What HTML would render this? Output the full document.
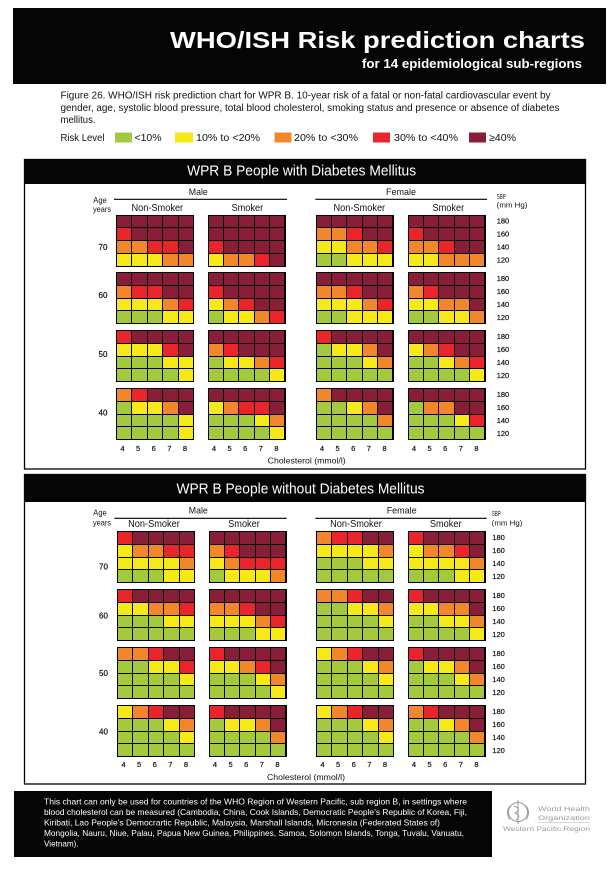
<!DOCTYPE html>
<html>
<head>
<meta charset="utf-8">
<style>
html,body{margin:0;padding:0;background:#fff;}
#w{position:relative;width:616px;height:873px;overflow:hidden;background:#fff;}
svg{position:absolute;left:0;top:0;}
svg text{font-family:"Liberation Sans",sans-serif;}
.g{position:absolute;width:78px;height:52px;background:#000;display:grid;grid-template-columns:repeat(5,1fr);grid-template-rows:repeat(4,1fr);gap:1px;padding:1px;box-sizing:border-box;}
.g>*{display:block;}
g{background:#a4c93c;} y{background:#f5ea17;} o{background:#f1872a;} r{background:#e9252b;} d{background:#891e38;}
</style>
</head>
<body>
<div id="w">
<svg width="616" height="873" viewBox="0 0 616 873" xmlns="http://www.w3.org/2000/svg">
<!-- Header -->
<rect x="13" y="8" width="593" height="76" fill="#050505"/>
<text x="170" y="48" font-size="23" font-weight="bold" fill="#fff" textLength="415" lengthAdjust="spacingAndGlyphs">WHO/ISH Risk prediction charts</text>
<text x="362" y="68" font-size="13" font-weight="bold" fill="#fff" textLength="220" lengthAdjust="spacingAndGlyphs">for 14 epidemiological sub-regions</text>

<!-- Paragraph -->
<text x="60.5" y="98.5" font-size="10" fill="#111" textLength="490" lengthAdjust="spacingAndGlyphs">Figure 26. WHO/ISH risk prediction chart for WPR B. 10-year risk of a fatal or non-fatal cardiovascular event by</text>
<text x="60.5" y="111" font-size="10" fill="#111" textLength="499" lengthAdjust="spacingAndGlyphs">gender, age, systolic blood pressure, total blood cholesterol, smoking status and presence or absence of diabetes</text>
<text x="60.5" y="123" font-size="10" fill="#111" textLength="35" lengthAdjust="spacingAndGlyphs">mellitus.</text>

<!-- Legend -->
<text x="60.5" y="141" font-size="10" fill="#111" textLength="44" lengthAdjust="spacingAndGlyphs">Risk Level</text>
<rect x="115" y="132.5" width="17" height="10" fill="#a4c93c"/>
<text x="134.5" y="141" font-size="10" fill="#111" textLength="27" lengthAdjust="spacingAndGlyphs">&lt;10%</text>
<rect x="175" y="132.5" width="18" height="10" fill="#f5ea17"/>
<text x="196" y="141" font-size="10" fill="#111" textLength="64" lengthAdjust="spacingAndGlyphs">10% to &lt;20%</text>
<rect x="274.5" y="132.5" width="17" height="10" fill="#f1872a"/>
<text x="294" y="141" font-size="10" fill="#111" textLength="64" lengthAdjust="spacingAndGlyphs">20% to &lt;30%</text>
<rect x="373" y="132.5" width="17" height="10" fill="#e9252b"/>
<text x="394" y="141" font-size="10" fill="#111" textLength="64" lengthAdjust="spacingAndGlyphs">30% to &lt;40%</text>
<rect x="469" y="132.5" width="17" height="10" fill="#891e38"/>
<text x="489" y="141" font-size="10" fill="#111" textLength="27" lengthAdjust="spacingAndGlyphs">≥40%</text>

<!-- Panel 1 -->
<rect x="24.5" y="159.5" width="561" height="309.5" fill="#fff" stroke="#000" stroke-width="1.3"/>
<rect x="24" y="159" width="562" height="25" fill="#050505"/>
<text x="301.6" y="175.5" font-size="15" fill="#fff" text-anchor="middle" textLength="229" lengthAdjust="spacingAndGlyphs">WPR B People with Diabetes Mellitus</text>

<text x="93.3" y="203" font-size="8" fill="#111" textLength="13.4" lengthAdjust="spacingAndGlyphs">Age</text>
<text x="93" y="212" font-size="8" fill="#111" textLength="18" lengthAdjust="spacingAndGlyphs">years</text>
<text x="198.3" y="195" font-size="9.5" fill="#111" text-anchor="middle" textLength="19" lengthAdjust="spacingAndGlyphs">Male</text>
<line x1="114" y1="199.3" x2="287" y2="199.3" stroke="#000" stroke-width="1.2"/>
<text x="157.3" y="210.8" font-size="10" fill="#111" text-anchor="middle" textLength="51.7" lengthAdjust="spacingAndGlyphs">Non-Smoker</text>
<text x="247.3" y="210.8" font-size="10" fill="#111" text-anchor="middle" textLength="31.7" lengthAdjust="spacingAndGlyphs">Smoker</text>
<text x="401" y="195" font-size="9.5" fill="#111" text-anchor="middle" textLength="30" lengthAdjust="spacingAndGlyphs">Female</text>
<line x1="315.3" y1="199.3" x2="487" y2="199.3" stroke="#000" stroke-width="1.2"/>
<text x="359.3" y="210.8" font-size="10" fill="#111" text-anchor="middle" textLength="51.7" lengthAdjust="spacingAndGlyphs">Non-Smoker</text>
<text x="448.3" y="210.8" font-size="10" fill="#111" text-anchor="middle" textLength="31.7" lengthAdjust="spacingAndGlyphs">Smoker</text>
<text x="496.7" y="199" font-size="7.5" fill="#111" textLength="9" lengthAdjust="spacingAndGlyphs">SBP</text>
<text x="496.7" y="207.5" font-size="7.5" fill="#111" textLength="30.7" lengthAdjust="spacingAndGlyphs">(mm Hg)</text>

<g font-size="7.5" fill="#111" stroke="#111" stroke-width="0.2">
<text x="496.7" y="223.5">180</text><text x="496.7" y="236.5">160</text><text x="496.7" y="249.5">140</text><text x="496.7" y="262.5">120</text>
<text x="496.7" y="281">180</text><text x="496.7" y="294">160</text><text x="496.7" y="307">140</text><text x="496.7" y="320">120</text>
<text x="496.7" y="339">180</text><text x="496.7" y="352">160</text><text x="496.7" y="365">140</text><text x="496.7" y="378">120</text>
<text x="496.7" y="397">180</text><text x="496.7" y="410">160</text><text x="496.7" y="423">140</text><text x="496.7" y="436">120</text>
</g>
<g font-size="8" fill="#111" text-anchor="middle" stroke="#111" stroke-width="0.2">
<text x="103" y="250">70</text><text x="103" y="298">60</text><text x="103" y="357">50</text><text x="103" y="415.5">40</text>
</g>
<g font-size="7.5" fill="#111" text-anchor="middle" stroke="#111" stroke-width="0.2">
<text x="122.5 138.1 153.7 169.3 184.9" y="451">45678</text>
<text x="214 229.6 245.2 260.8 276.4" y="451">45678</text>
<text x="322 337.6 353.2 368.8 384.4" y="451">45678</text>
<text x="414 429.6 445.2 460.8 476.4" y="451">45678</text>
</g>
<text x="306.7" y="463.5" font-size="8.5" fill="#111" text-anchor="middle" textLength="78" lengthAdjust="spacingAndGlyphs">Cholesterol (mmol/l)</text>

<!-- Panel 2 -->
<rect x="24.5" y="474.5" width="561" height="309.5" fill="#fff" stroke="#000" stroke-width="1.3"/>
<rect x="24" y="474" width="562" height="28" fill="#050505"/>
<text x="300.5" y="493.5" font-size="15" fill="#fff" text-anchor="middle" textLength="248" lengthAdjust="spacingAndGlyphs">WPR B People without Diabetes Mellitus</text>

<text x="93.3" y="515.5" font-size="8" fill="#111" textLength="13.4" lengthAdjust="spacingAndGlyphs">Age</text>
<text x="93" y="525.5" font-size="8" fill="#111" textLength="18" lengthAdjust="spacingAndGlyphs">years</text>
<text x="198.3" y="513.5" font-size="9.5" fill="#111" text-anchor="middle" textLength="19" lengthAdjust="spacingAndGlyphs">Male</text>
<line x1="114.3" y1="518.3" x2="286.7" y2="518.3" stroke="#000" stroke-width="1.2"/>
<text x="154" y="527" font-size="10" fill="#111" text-anchor="middle" textLength="51.7" lengthAdjust="spacingAndGlyphs">Non-Smoker</text>
<text x="244" y="527" font-size="10" fill="#111" text-anchor="middle" textLength="31.7" lengthAdjust="spacingAndGlyphs">Smoker</text>
<text x="401.7" y="513.5" font-size="9.5" fill="#111" text-anchor="middle" textLength="30" lengthAdjust="spacingAndGlyphs">Female</text>
<line x1="315.3" y1="518.3" x2="486.7" y2="518.3" stroke="#000" stroke-width="1.2"/>
<text x="356" y="527" font-size="10" fill="#111" text-anchor="middle" textLength="51.7" lengthAdjust="spacingAndGlyphs">Non-Smoker</text>
<text x="445.7" y="527" font-size="10" fill="#111" text-anchor="middle" textLength="31.7" lengthAdjust="spacingAndGlyphs">Smoker</text>
<text x="491.7" y="516" font-size="7.5" fill="#111" textLength="9" lengthAdjust="spacingAndGlyphs">SBP</text>
<text x="491.7" y="525.5" font-size="7.5" fill="#111" textLength="30.7" lengthAdjust="spacingAndGlyphs">(mm Hg)</text>

<g font-size="7.5" fill="#111" stroke="#111" stroke-width="0.2">
<text x="492.3" y="540">180</text><text x="492.3" y="553">160</text><text x="492.3" y="566">140</text><text x="492.3" y="579">120</text>
<text x="492.3" y="598">180</text><text x="492.3" y="611">160</text><text x="492.3" y="624">140</text><text x="492.3" y="637">120</text>
<text x="492.3" y="656">180</text><text x="492.3" y="669">160</text><text x="492.3" y="682">140</text><text x="492.3" y="695">120</text>
<text x="492.3" y="714">180</text><text x="492.3" y="727">160</text><text x="492.3" y="740">140</text><text x="492.3" y="753">120</text>
</g>
<g font-size="8" fill="#111" text-anchor="middle" stroke="#111" stroke-width="0.2">
<text x="103.5" y="569.5">70</text><text x="103.5" y="618.5">60</text><text x="103.5" y="676">50</text><text x="103.5" y="734.5">40</text>
</g>
<g font-size="7.5" fill="#111" text-anchor="middle" stroke="#111" stroke-width="0.2">
<text x="123.5 139.1 154.7 170.3 185.9" y="767">45678</text>
<text x="215 230.6 246.2 261.8 277.4" y="767">45678</text>
<text x="322.5 338.1 353.7 369.3 384.9" y="767">45678</text>
<text x="414 429.6 445.2 460.8 476.4" y="767">45678</text>
</g>
<text x="306" y="780" font-size="8.5" fill="#111" text-anchor="middle" textLength="78" lengthAdjust="spacingAndGlyphs">Cholesterol (mmol/l)</text>

<!-- Footer -->
<rect x="14" y="791" width="478" height="66" fill="#050505"/>
<g font-size="8.3" fill="#fff">
<text x="44" y="804.5" textLength="423" lengthAdjust="spacingAndGlyphs">This chart can only be used for countries of the WHO Region of Western Pacific, sub region B, in settings where</text>
<text x="44" y="815" textLength="423" lengthAdjust="spacingAndGlyphs">blood cholesterol can be measured (Cambodia, China, Cook Islands, Democratic People’s Republic of Korea, Fiji,</text>
<text x="44" y="825.5" textLength="396" lengthAdjust="spacingAndGlyphs">Kiribati, Lao People’s Democrartic Republic, Malaysia, Marshall Islands, Micronesia (Federated States of)</text>
<text x="44" y="836" textLength="420" lengthAdjust="spacingAndGlyphs">Mongolia, Nauru, Niue, Palau, Papua New Guinea, Philippines, Samoa, Solomon Islands, Tonga, Tuvalu, Vanuatu,</text>
<text x="44" y="846.5" textLength="34.6" lengthAdjust="spacingAndGlyphs">Vietnam).</text>
</g>

<!-- WHO logo -->
<g fill="none" stroke="#9a9a9a" stroke-width="1">
<circle cx="518" cy="812" r="9.5"/>
<path d="M510 806 Q505 812 510 820 M526 806 Q531 812 526 820"/>
<line x1="518" y1="800" x2="518" y2="824"/>
<path d="M514 806 Q522 809 515 813 Q522 816 516 820"/>
</g>
<g font-size="6.5" fill="#9a9a9a">
<text x="538" y="811" textLength="52" lengthAdjust="spacingAndGlyphs">World Health</text>
<text x="538" y="820" textLength="52" lengthAdjust="spacingAndGlyphs">Organization</text>
</g>
<line x1="538" y1="822.5" x2="590" y2="822.5" stroke="#c8c8c8" stroke-width="0.8"/>
<text x="503" y="831" font-size="6" fill="#9a9a9a" textLength="87" lengthAdjust="spacingAndGlyphs">Western Pacific Region</text>
</svg>

<!-- Panel 1 grids (with diabetes) -->
<div class="g" style="left:116px;top:214.5px"><d></d><d></d><d></d><d></d><d></d><r></r><d></d><d></d><d></d><d></d><o></o><o></o><r></r><r></r><d></d><y></y><y></y><y></y><o></o><o></o></div>
<div class="g" style="left:207.5px;top:214.5px"><d></d><d></d><d></d><d></d><d></d><d></d><d></d><d></d><d></d><d></d><r></r><d></d><d></d><d></d><d></d><y></y><o></o><o></o><r></r><d></d></div>
<div class="g" style="left:315.5px;top:214.5px"><d></d><d></d><d></d><d></d><d></d><o></o><o></o><r></r><d></d><d></d><y></y><y></y><o></o><o></o><r></r><g></g><g></g><y></y><y></y><y></y></div>
<div class="g" style="left:407.5px;top:214.5px"><d></d><d></d><d></d><d></d><d></d><r></r><d></d><d></d><d></d><d></d><o></o><o></o><r></r><d></d><d></d><y></y><y></y><o></o><o></o><o></o></div>

<div class="g" style="left:116px;top:272px"><d></d><d></d><d></d><d></d><d></d><o></o><r></r><r></r><d></d><d></d><y></y><y></y><y></y><o></o><r></r><g></g><g></g><g></g><y></y><y></y></div>
<div class="g" style="left:207.5px;top:272px"><d></d><d></d><d></d><d></d><d></d><r></r><d></d><d></d><d></d><d></d><y></y><o></o><r></r><d></d><d></d><g></g><y></y><y></y><o></o><r></r></div>
<div class="g" style="left:315.5px;top:272px"><d></d><d></d><d></d><d></d><d></d><o></o><o></o><r></r><d></d><d></d><y></y><y></y><y></y><o></o><r></r><g></g><g></g><y></y><y></y><y></y></div>
<div class="g" style="left:407.5px;top:272px"><d></d><d></d><d></d><d></d><d></d><o></o><r></r><d></d><d></d><d></d><y></y><y></y><o></o><o></o><d></d><g></g><g></g><y></y><y></y><o></o></div>

<div class="g" style="left:116px;top:330px"><r></r><d></d><d></d><d></d><d></d><y></y><y></y><y></y><r></r><d></d><g></g><g></g><g></g><y></y><y></y><g></g><g></g><g></g><g></g><y></y></div>
<div class="g" style="left:207.5px;top:330px"><d></d><d></d><d></d><d></d><d></d><o></o><r></r><d></d><d></d><d></d><g></g><y></y><y></y><o></o><r></r><g></g><g></g><g></g><g></g><y></y></div>
<div class="g" style="left:315.5px;top:330px"><r></r><d></d><d></d><d></d><d></d><g></g><y></y><y></y><o></o><d></d><g></g><g></g><g></g><y></y><o></o><g></g><g></g><g></g><g></g><g></g></div>
<div class="g" style="left:407.5px;top:330px"><d></d><d></d><d></d><d></d><d></d><y></y><o></o><r></r><d></d><d></d><g></g><g></g><y></y><o></o><r></r><g></g><g></g><g></g><g></g><y></y></div>

<div class="g" style="left:116px;top:388px"><o></o><r></r><d></d><d></d><d></d><g></g><y></y><y></y><o></o><d></d><g></g><g></g><g></g><g></g><y></y><g></g><g></g><g></g><g></g><y></y></div>
<div class="g" style="left:207.5px;top:388px"><d></d><d></d><d></d><d></d><d></d><y></y><o></o><r></r><r></r><d></d><g></g><g></g><g></g><y></y><o></o><g></g><g></g><g></g><g></g><y></y></div>
<div class="g" style="left:315.5px;top:388px"><o></o><d></d><d></d><d></d><d></d><g></g><g></g><y></y><o></o><d></d><g></g><g></g><g></g><g></g><o></o><g></g><g></g><g></g><g></g><g></g></div>
<div class="g" style="left:407.5px;top:388px"><d></d><d></d><d></d><d></d><d></d><g></g><o></o><o></o><d></d><d></d><g></g><g></g><g></g><y></y><r></r><g></g><g></g><g></g><g></g><g></g></div>

<!-- Panel 2 grids (without diabetes) -->
<div class="g" style="left:117px;top:531px"><r></r><d></d><d></d><d></d><d></d><y></y><o></o><o></o><r></r><r></r><y></y><y></y><y></y><y></y><o></o><g></g><g></g><g></g><y></y><y></y></div>
<div class="g" style="left:208.5px;top:531px"><d></d><d></d><d></d><d></d><d></d><o></o><r></r><d></d><d></d><d></d><y></y><o></o><r></r><r></r><r></r><g></g><y></y><y></y><y></y><o></o></div>
<div class="g" style="left:316px;top:531px"><o></o><r></r><r></r><d></d><d></d><y></y><y></y><y></y><y></y><o></o><g></g><g></g><g></g><y></y><y></y><g></g><g></g><g></g><g></g><g></g></div>
<div class="g" style="left:407.5px;top:531px"><r></r><d></d><d></d><d></d><d></d><y></y><o></o><o></o><r></r><d></d><y></y><y></y><y></y><y></y><o></o><g></g><g></g><g></g><y></y><y></y></div>

<div class="g" style="left:117px;top:589px"><r></r><d></d><d></d><d></d><d></d><y></y><y></y><o></o><o></o><r></r><g></g><g></g><g></g><y></y><y></y><g></g><g></g><g></g><g></g><g></g></div>
<div class="g" style="left:208.5px;top:589px"><d></d><d></d><d></d><d></d><d></d><o></o><o></o><r></r><d></d><d></d><y></y><y></y><y></y><o></o><r></r><g></g><g></g><g></g><y></y><y></y></div>
<div class="g" style="left:316px;top:589px"><o></o><o></o><r></r><d></d><d></d><g></g><g></g><y></y><y></y><o></o><g></g><g></g><g></g><g></g><y></y><g></g><g></g><g></g><g></g><g></g></div>
<div class="g" style="left:407.5px;top:589px"><r></r><d></d><d></d><d></d><d></d><y></y><y></y><o></o><o></o><d></d><g></g><g></g><y></y><y></y><o></o><g></g><g></g><g></g><g></g><y></y></div>

<div class="g" style="left:117px;top:647px"><o></o><o></o><r></r><d></d><d></d><g></g><g></g><y></y><y></y><r></r><g></g><g></g><g></g><g></g><y></y><g></g><g></g><g></g><g></g><g></g></div>
<div class="g" style="left:208.5px;top:647px"><r></r><d></d><d></d><d></d><d></d><y></y><y></y><o></o><r></r><d></d><g></g><g></g><g></g><y></y><o></o><g></g><g></g><g></g><g></g><y></y></div>
<div class="g" style="left:316px;top:647px"><y></y><o></o><r></r><d></d><d></d><g></g><g></g><g></g><y></y><o></o><g></g><g></g><g></g><g></g><y></y><g></g><g></g><g></g><g></g><g></g></div>
<div class="g" style="left:407.5px;top:647px"><r></r><d></d><d></d><d></d><d></d><g></g><y></y><y></y><o></o><d></d><g></g><g></g><g></g><y></y><o></o><g></g><g></g><g></g><g></g><g></g></div>

<div class="g" style="left:117px;top:705px"><y></y><o></o><r></r><d></d><d></d><g></g><g></g><g></g><y></y><o></o><g></g><g></g><g></g><g></g><y></y><g></g><g></g><g></g><g></g><g></g></div>
<div class="g" style="left:208.5px;top:705px"><r></r><d></d><d></d><d></d><d></d><g></g><y></y><y></y><o></o><d></d><g></g><g></g><g></g><g></g><o></o><g></g><g></g><g></g><g></g><g></g></div>
<div class="g" style="left:316px;top:705px"><y></y><o></o><r></r><d></d><d></d><g></g><g></g><g></g><y></y><o></o><g></g><g></g><g></g><g></g><y></y><g></g><g></g><g></g><g></g><g></g></div>
<div class="g" style="left:407.5px;top:705px"><o></o><r></r><d></d><d></d><d></d><g></g><g></g><y></y><o></o><d></d><g></g><g></g><g></g><g></g><o></o><g></g><g></g><g></g><g></g><g></g></div>
</div>
</body>
</html>
